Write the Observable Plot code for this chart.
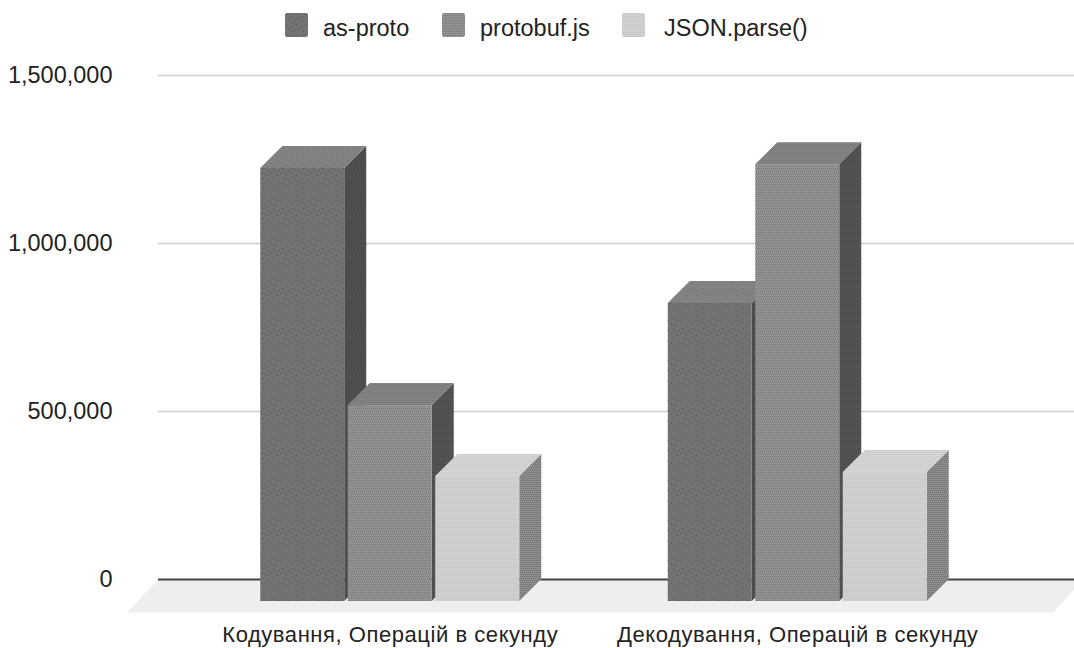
<!DOCTYPE html>
<html><head><meta charset="utf-8">
<script src="https://cdn.jsdelivr.net/npm/d3@7"></script>
<script src="https://cdn.jsdelivr.net/npm/@observablehq/plot@0.6"></script>
<style>
html,body{margin:0;padding:0;background:#fff;overflow:hidden}
#legend{position:relative;height:50px;font:23.5px "Liberation Sans",Arial,sans-serif;color:#222}
#legend svg{position:absolute;top:13px}
#legend span{position:absolute;top:15px;line-height:26px;white-space:nowrap}
#chart svg{display:block}
#chart g[aria-label="x-axis tick label"] text{letter-spacing:.55px}
</style></head><body>
<div id="legend"></div><div id="chart"></div>
<script>
const categories = ["Кодування, Операцій в секунду", "Декодування, Операцій в секунду"];
const seriesNames = ["as-proto", "protobuf.js", "JSON.parse()"];
const encodeValues = [1289000, 583000, 372000];
const decodeValues = [887000, 1300000, 384000];
const yTicks = [0, 500000, 1000000, 1500000];

const data = [
  ...seriesNames.map((s, i) => ({cat: 0, idx: i, series: s, value: encodeValues[i]})),
  ...seriesNames.map((s, i) => ({cat: 1, idx: i, series: s, value: decodeValues[i]}))
];

const DEPTH = 22;
const FONT = '"Liberation Sans",Arial,sans-serif';
// one x unit = one category; a bar slot and its width within it
const barStep = 0.2147, barWidth = 0.2061;
const barX1 = d => d.cat + 0.5 + (d.idx - 1.5) * barStep + (barStep - barWidth) / 2;
const barX2 = d => barX1(d) + barWidth;

const faces = {
  "as-proto":    {front: ["#727272", "#555555"], top: ["#828282", "#707070"], side: ["#4e4e4e", "#3e3e3e"]},
  "protobuf.js": {front: ["#939393", "#787878"], top: ["#858585", "#707070"], side: ["#555555", "#444444"]},
  "JSON.parse()":{front: ["#cacaca", "#d8d8d8"], top: ["#d6d6d6", "#c4c4c4"], side: ["#8c8c8c", "#707070"]}
};
const sparseDots = [[1,1],[6,3],[3,6],[8,8]];
const denseDots = [[0,0],[2,0],[4,0],[6,0],[8,0],[1,2],[3,2],[5,2],[7,2],[9,2],[0,4],[2,4],[4,4],[6,4],[8,4],[1,6],[3,6],[5,6],[7,6],[9,6],[0,8],[2,8],[4,8],[6,8],[8,8]];
const textures = {"as-proto": sparseDots, "protobuf.js": denseDots, "JSON.parse()": denseDots};

const pid = (s, f) => `p${seriesNames.indexOf(s)}${f}`;
const faceFill = f => d => `url(#${pid(d.series, f)})`;

const svgNS = "http://www.w3.org/2000/svg";
// Turn the rects Plot computed for a bar into 3-D faces of the same bar
const faceRender = shape => (index, scales, values, dims, ctx, next) => {
  const g = next(index, scales, values, dims, ctx);
  g.querySelectorAll("rect").forEach(r => {
    const x = +r.getAttribute("x"), y = +r.getAttribute("y");
    const w = +r.getAttribute("width"), h = +r.getAttribute("height");
    const p = document.createElementNS(svgNS, "polygon");
    p.setAttribute("points", shape(x, y, w, h).map(q => q.join(",")).join(" "));
    p.setAttribute("fill", r.getAttribute("fill"));
    r.replaceWith(p);
  });
  return g;
};
const sidePts = (x, y, w, h) => [[x + w, y], [x + w + DEPTH, y - DEPTH], [x + w + DEPTH, y + h - DEPTH], [x + w, y + h]];
const topPts = (x, y, w) => [[x, y], [x + DEPTH, y - DEPTH], [x + w + DEPTH, y - DEPTH], [x + w, y]];

const floorRender = (index, scales, values, dims, ctx, next) => {
  const g = next(index, scales, values, dims, ctx);
  const l = g.querySelector("line");
  const y = +l.getAttribute("y1");
  const p = document.createElementNS(svgNS, "polygon");
  p.setAttribute("points", [[dims.marginLeft, y], [dims.width + 9, y], [dims.width - 21, y + 33], [dims.marginLeft - 31, y + 33]].map(q => q.join(",")).join(" "));
  p.setAttribute("fill", "#eeeeee");
  p.setAttribute("stroke", "none");
  l.replaceWith(p);
  return g;
};

const bar = opts => Plot.rect(data, {x1: barX1, x2: barX2, y1: () => 0, y2: "value", dy: DEPTH, ...opts});

const chart = Plot.plot({
  width: 1074, height: 598,
  marginTop: 25, marginBottom: 69, marginLeft: 158, marginRight: 0,
  style: {fontFamily: FONT, background: "#fff", overflow: "hidden"},
  x: {domain: [0, 2], range: [186, 1001], label: null},
  y: {domain: [0, 1500000], label: null},
  color: {type: "identity"},
  marks: [
    Plot.ruleY([0], {render: floorRender}),
    Plot.ruleY(yTicks.slice(1), {stroke: "#cccccc", strokeWidth: 1.6}),
    Plot.ruleY([0], {stroke: "#444444", strokeWidth: 2}),
    Plot.axisY({ticks: yTicks, tickFormat: d3.format(","), tickSize: 0, tickPadding: 46, fontSize: 23.5, fill: "#222", label: null}),
    Plot.axisX({ticks: [0.5, 1.5], tickFormat: v => categories[Math.floor(v)], tickSize: 0, tickPadding: 47, fontSize: 22, fill: "#222", label: null}),
    bar({fill: faceFill("side"), render: faceRender(sidePts)}),
    bar({fill: faceFill("top"), render: faceRender(topPts)}),
    bar({fill: faceFill("front")})
  ]
});

// textures
const defs = document.createElementNS(svgNS, "defs");
for (const s of seriesNames) for (const f of ["front", "top", "side"]) {
  const [base, dot] = faces[s][f];
  const pat = document.createElementNS(svgNS, "pattern");
  pat.setAttribute("id", pid(s, f));
  pat.setAttribute("patternUnits", "userSpaceOnUse");
  pat.setAttribute("width", 10); pat.setAttribute("height", 10);
  const bg = document.createElementNS(svgNS, "rect");
  bg.setAttribute("width", 10); bg.setAttribute("height", 10); bg.setAttribute("fill", base);
  pat.appendChild(bg);
  for (const [x, y] of textures[s]) {
    const c = document.createElementNS(svgNS, "rect");
    c.setAttribute("x", x); c.setAttribute("y", y);
    c.setAttribute("width", 1); c.setAttribute("height", 1); c.setAttribute("fill", dot);
    pat.appendChild(c);
  }
  defs.appendChild(pat);
}
chart.insertBefore(defs, chart.firstChild);
document.getElementById("chart").appendChild(chart);

// legend
const legend = document.getElementById("legend");
const swatchX = [285, 442, 622], textX = [323, 480, 664];
seriesNames.forEach((s, i) => {
  const sw = document.createElementNS(svgNS, "svg");
  sw.setAttribute("width", 23); sw.setAttribute("height", 24);
  sw.style.left = swatchX[i] + "px";
  const r = document.createElementNS(svgNS, "rect");
  r.setAttribute("width", 23); r.setAttribute("height", 24); r.setAttribute("rx", 2);
  r.setAttribute("fill", `url(#${pid(s, "front")})`);
  sw.appendChild(r);
  legend.appendChild(sw);
  const t = document.createElement("span");
  t.textContent = s; t.style.left = textX[i] + "px";
  legend.appendChild(t);
});
</script>
</body></html>
